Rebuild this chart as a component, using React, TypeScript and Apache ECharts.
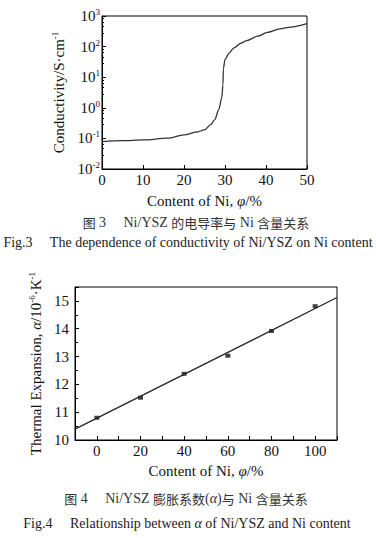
import React, { useEffect, useRef } from "react";
import * as echarts from "echarts";

// Fig.3 conductivity curve
const niContent1 = [0, 5, 10, 16, 20, 23, 25, 26.5, 27.5, 28.5, 29.2, 29.5, 29.6, 30.0, 31, 32.1, 34, 35.3, 38, 40.3, 43.4, 46, 50];
const conductivity = [0.079, 0.084, 0.089, 0.102, 0.13, 0.16, 0.19, 0.28, 0.41, 0.89, 2.1, 5.6, 18.7, 38, 61, 89, 131, 157, 219, 290, 382, 436, 562];

// Fig.4 thermal expansion
const niContent2 = [0, 20, 40, 60, 80, 100];
const expansion = [10.8, 11.52, 12.38, 13.03, 13.92, 14.81];
const fitX = [-10, 110];
const fitY = [10.39, 15.12];

const caption3cn = "{c|图} {l|3\u2003 Ni/YSZ }{c|的电导率与}{l| Ni }{c|含量关系}";
const caption3en = "{l|Fig.3\u2003 The dependence of conductivity of Ni/YSZ on Ni content}";
const caption4cn = "{c|图} {l|4\u2003 Ni/YSZ }{c|膨胀系数}{l|(}{i|α}{l|)}{c|与}{l| Ni }{c|含量关系}";
const caption4en = "{l|Fig.4\u2003 Relationship between }{i|α}{l| of Ni/YSZ and Ni content}";

const SERIF = "Liberation Serif";
const CJKF = "Noto Sans CJK SC";

export default function App() {
  const ref = useRef<HTMLDivElement>(null);
  useEffect(() => {
    if (!ref.current) return;
    const chart = echarts.init(ref.current, undefined, { renderer: "svg" });
    const axisLine = { show: true, onZero: false, lineStyle: { color: "#000", width: 1 } };
    const rich = {
      n: { fontFamily: SERIF, fontSize: 15, color: "#111" },
      i: { fontFamily: SERIF, fontSize: 15, fontStyle: "italic", color: "#111" },
      s: { fontFamily: SERIF, fontSize: 9, color: "#111", verticalAlign: "bottom", padding: [0, 0, 8, 0] },
    };
    const capStyle = (text: string, size: number, cjkSize: number, color: string) => ({
      text, align: "center", verticalAlign: "middle",
      rich: {
        l: { fontFamily: SERIF, fontSize: size, fill: color },
        i: { fontFamily: SERIF, fontSize: size, fontStyle: "italic", fill: color },
        c: { fontFamily: CJKF, fontSize: cjkSize, fill: color },
      },
    });
    chart.setOption({
      animation: false,
      grid: [
        { left: 102, top: 16, width: 205, height: 153, show: true, borderColor: "#000", borderWidth: 1 },
        { left: 75, top: 287, width: 262, height: 153, show: true, borderColor: "#000", borderWidth: 1 },
      ],
      xAxis: [
        {
          gridIndex: 0, type: "value", min: 0, max: 50, interval: 10,
          axisLine, axisTick: { inside: true, length: 4, lineStyle: { color: "#000" } },
          splitLine: { show: false },
          axisLabel: { margin: 3, fontFamily: SERIF, fontSize: 15, color: "#111" },
          name: "{n|Content of Ni, }{i|φ}{n|/%}", nameLocation: "middle", nameGap: 24,
          nameTextStyle: { rich },
        },
        {
          gridIndex: 1, type: "value", min: -10, max: 110, interval: 10,
          axisLine, axisTick: { inside: true, length: 4, lineStyle: { color: "#000" } },
          splitLine: { show: false },
          axisLabel: {
            margin: 3, fontFamily: SERIF, fontSize: 15, color: "#111", showMinLabel: true, showMaxLabel: true,
            formatter: (v: number) => (Math.abs(v) % 20 === 0 ? String(v) : ""),
          },
          name: "{n|Content of Ni, }{i|φ}{n|/%}", nameLocation: "middle", nameGap: 23,
          nameTextStyle: { rich },
        },
      ],
      yAxis: [
        {
          gridIndex: 0, type: "log", logBase: 10, min: 0.01, max: 1000,
          axisLine, axisTick: { inside: true, length: 4, lineStyle: { color: "#000" } },
          minorTick: { show: true, splitNumber: 5, length: 2, lineStyle: { color: "#000" } },
          splitLine: { show: false },
          axisLabel: {
            margin: 2,
            formatter: (v: number) => `{b|10}{s|${Math.round(Math.log10(v))}}`,
            rich: {
              b: { fontFamily: SERIF, fontSize: 15, color: "#111" },
              s: { fontFamily: SERIF, fontSize: 9, color: "#111", verticalAlign: "bottom", padding: [0, 0, 8, 0] },
            },
          },
          name: "{n|Conductivity/S·cm}{s|-1}", nameLocation: "middle", nameGap: 31,
          nameTextStyle: { rich },
        },
        {
          gridIndex: 1, type: "value", min: 10, max: 15.5, interval: 1,
          axisLine, axisTick: { inside: true, length: 4, lineStyle: { color: "#000" } },
          minorTick: { show: true, splitNumber: 2, length: 3, lineStyle: { color: "#000" } },
          splitLine: { show: false },
          axisLabel: {
            margin: 6, fontFamily: SERIF, fontSize: 15, color: "#111",
            formatter: (v: number) => (v % 1 === 0 ? String(v) : ""),
          },
          name: "{n|Thermal Expansion, }{i|α}{n|/10}{s|-6}{n|·K}{s|-1}", nameLocation: "middle", nameGap: 24,
          nameTextStyle: { rich },
        },
      ],
      series: [
        {
          type: "line", xAxisIndex: 0, yAxisIndex: 0, showSymbol: false, smooth: 0.3, smoothMonotone: "x",
          lineStyle: { color: "#333", width: 1.3 },
          data: niContent1.map((x, i) => [x, conductivity[i]]),
        },
        {
          type: "line", xAxisIndex: 1, yAxisIndex: 1, showSymbol: false,
          lineStyle: { color: "#222", width: 1.2 },
          data: fitX.map((x, i) => [x, fitY[i]]),
        },
        {
          type: "scatter", xAxisIndex: 1, yAxisIndex: 1, symbol: "rect", symbolSize: [5, 4],
          itemStyle: { color: "#111" },
          data: niContent2.map((x, i) => [x, expansion[i]]),
        },
      ],
      graphic: [
        { type: "text", x: 196, y: 222, style: capStyle(caption3cn, 14, 13, "#333") },
        { type: "text", x: 188, y: 242, style: capStyle(caption3en, 14, 13, "#222") },
        { type: "text", x: 186, y: 498, style: capStyle(caption4cn, 14, 13, "#333") },
        { type: "text", x: 187, y: 523, style: capStyle(caption4en, 14, 13, "#222") },
      ],
    });
    return () => chart.dispose();
  }, []);
  return <div ref={ref} style={{ position: "absolute", left: 0, top: 0, width: 376, height: 538, background: "#fff" }} />;
}
